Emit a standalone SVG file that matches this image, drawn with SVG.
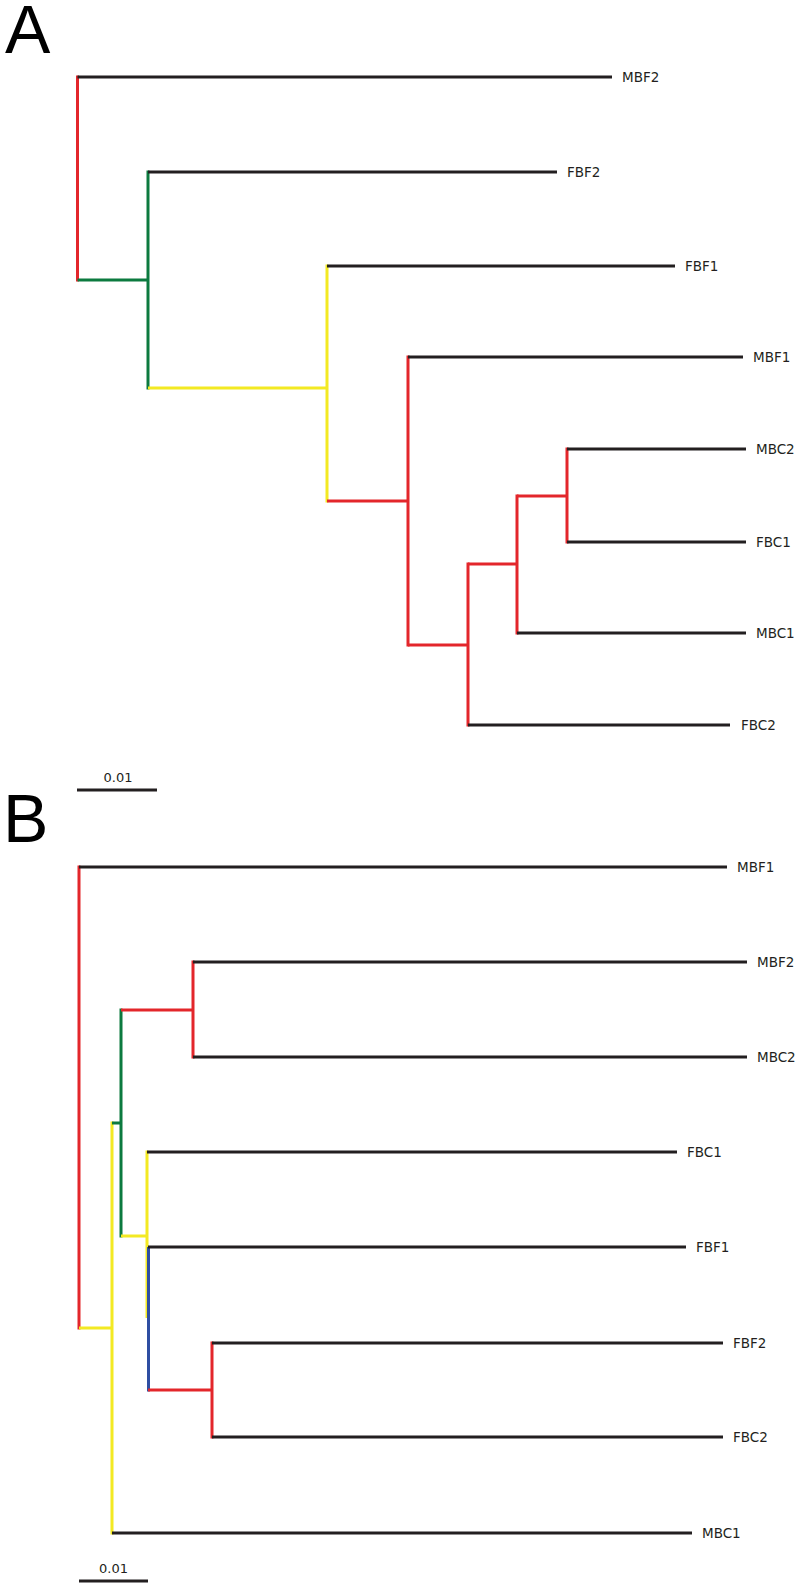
<svg xmlns="http://www.w3.org/2000/svg" width="800" height="1587" viewBox="0 0 800 1587">
<style>
.b{fill:none;stroke-width:3;stroke-linecap:butt}
.k{stroke:#231f20}.r{stroke:#e3262b}.g{stroke:#0c7a3f}.y{stroke:#f3e923}.u{stroke:#2f4ea2}
.lab{font-family:"DejaVu Sans",sans-serif;font-size:13.5px;fill:#231f20}
.pan{font-family:"Liberation Sans",Arial,sans-serif;font-size:68px;fill:#000}
.sc{font-family:"DejaVu Sans",sans-serif;font-size:13px;fill:#231f20;text-anchor:middle}
</style>
<rect width="800" height="1587" fill="#fff"/>
<text class="pan" x="5" y="53">A</text>
<text class="pan" x="3" y="842">B</text>
<g id="connectors">
<g id="treeA">
<path class="b r" d="M77.5 75.5V281.5"/>
<path class="b k" d="M77.5 77H612"/>
<path class="b g" d="M77.5 280H148M148 170.5V389.5"/>
<path class="b k" d="M148 172H557"/>
<path class="b y" d="M148 388H327M327 264.5V502.5"/>
<path class="b k" d="M327 266H675"/>
<path class="b r" d="M327 501H408M408 355.5V646.5"/>
<path class="b k" d="M408 357H743"/>
<path class="b r" d="M408 645H468M468 562.5V726.5"/>
<path class="b k" d="M468 725H730"/>
<path class="b r" d="M468 564H517M517 494.5V634.5"/>
<path class="b k" d="M517 633H746"/>
<path class="b r" d="M517 496H567M567 447.5V543.5"/>
<path class="b k" d="M567 449H746M567 542H746"/>
</g>
<g id="treeB">
<path class="b r" d="M79 865.5V1329.5"/>
<path class="b k" d="M79 867H727"/>
<path class="b y" d="M79 1328H112M112 1121.5V1534.5"/>
<path class="b k" d="M112 1533H692"/>
<path class="b g" d="M112 1123H121M121 1008.5V1237.5"/>
<path class="b r" d="M121 1010H193M193 960.5V1058.5"/>
<path class="b k" d="M193 962H747M193 1057H747"/>
<path class="b y" d="M121 1236H147M147 1150.5V1318"/>
<path class="b k" d="M147 1152H677"/>
<path class="b u" d="M148.5 1247V1391.5"/>
<path class="b k" d="M148 1247H686"/>
<path class="b r" d="M148 1390H212M212 1341.5V1438.5"/>
<path class="b k" d="M212 1343H723M212 1437H723"/>
</g>
</g>
<g id="A_MBF2"><text class="lab" x="622" y="82">MBF2</text></g>
<g id="A_FBF2"><text class="lab" x="567" y="177">FBF2</text></g>
<g id="A_FBF1"><text class="lab" x="685" y="271">FBF1</text></g>
<g id="A_MBF1"><text class="lab" x="753" y="362">MBF1</text></g>
<g id="A_MBC2"><text class="lab" x="756" y="454">MBC2</text></g>
<g id="A_FBC1"><text class="lab" x="756" y="547">FBC1</text></g>
<g id="A_MBC1"><text class="lab" x="756" y="638">MBC1</text></g>
<g id="A_FBC2"><text class="lab" x="741" y="730">FBC2</text></g>
<g id="A_scale"><path class="b k" d="M77 790H157"/><text class="sc" x="118" y="782">0.01</text></g>
<g id="B_MBF1"><text class="lab" x="737" y="872">MBF1</text></g>
<g id="B_MBF2"><text class="lab" x="757" y="967">MBF2</text></g>
<g id="B_MBC2"><text class="lab" x="757" y="1062">MBC2</text></g>
<g id="B_FBC1"><text class="lab" x="687" y="1157">FBC1</text></g>
<g id="B_FBF1"><text class="lab" x="696" y="1252">FBF1</text></g>
<g id="B_FBF2"><text class="lab" x="733" y="1348">FBF2</text></g>
<g id="B_FBC2"><text class="lab" x="733" y="1442">FBC2</text></g>
<g id="B_MBC1"><text class="lab" x="702" y="1538">MBC1</text></g>
<g id="B_scale"><path class="b k" d="M79 1581H148"/><text class="sc" x="113.5" y="1573">0.01</text></g>
</svg>
